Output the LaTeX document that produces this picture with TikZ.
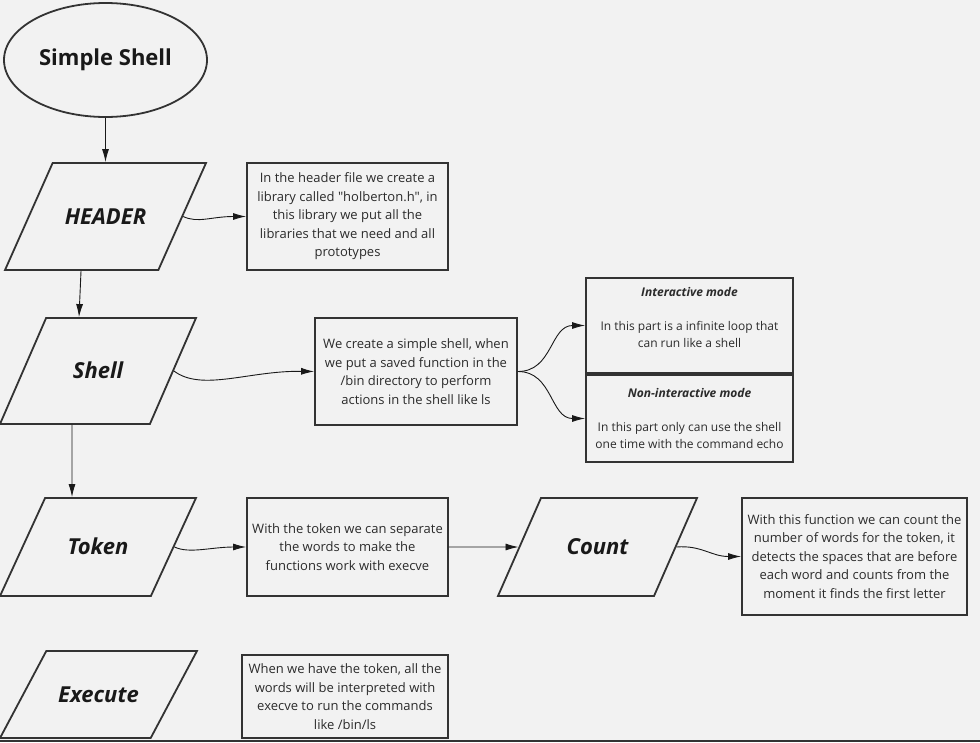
\documentclass[tikz,border=0pt]{standalone}
\usepackage{fontspec}
\newfontfamily\osans{Open Sans}
\usetikzlibrary{shapes.geometric,arrows.meta}
\definecolor{bg}{HTML}{F2F2F2}
\definecolor{ln}{HTML}{333333}
\definecolor{tx}{HTML}{2B2B2B}
\tikzset{
  frame/.style={draw=ln, line width=1.8pt},
  para/.style={frame, trapezium, trapezium left angle=66, trapezium right angle=114,
    inner sep=0pt, align=center,
    font=\osans\fontsize{22}{26}\selectfont\bfseries\itshape, text=black!90},
  txtbox/.style={frame, rectangle, align=center, inner sep=0pt,
    font=\osans\fontsize{13}{18.5}\selectfont, text=tx},
  smalltxt/.style={font=\osans\fontsize{12}{17}\selectfont},
  arr/.style={draw=black!90, line width=0.9pt, -{Latex[length=13pt,width=7pt]}}
}
\begin{document}
\begin{tikzpicture}[x=1pt,y=-1pt]
\useasboundingbox (0,0) rectangle (980,742);
\fill[bg] (0,0) rectangle (980,742);

\node[frame, ellipse, minimum width=203pt, minimum height=114pt,
  font=\osans\fontsize{22}{26}\selectfont\bfseries, text=black!90] (ell) at (105.5,60) {Simple Shell};

\node[para, text width=105.7pt, text height=61pt, text depth=46pt] (hdr) at (105.5,216.5) {HEADER};
\node[txtbox, minimum width=201pt, minimum height=107pt] (hbox) at (347.5,216.5)
  {In the header file we create a\\library called \char"0022holberton.h\char"0022, in\\this library we put all the\\libraries that we need and all\\prototypes};

\node[para, trapezium left angle=66.5, trapezium right angle=113.5, text width=103.8pt, text height=60.5pt, text depth=45.5pt] (shl) at (98,371) {Shell};
\node[txtbox, minimum width=202pt, minimum height=107pt] (sbox) at (416,371.5)
  {We create a simple shell, when\\we put a saved function in the\\/bin directory to perform\\actions in the shell like ls};
\node[txtbox, smalltxt, minimum width=207pt, minimum height=95pt] (imode) at (689.5,325.5)
  {{\bfseries\itshape Interactive mode}\\[17pt]In this part is a infinite loop that\\can run like a shell\\\mbox{}};
\node[txtbox, smalltxt, minimum width=207pt, minimum height=87pt] (nmode) at (689.5,418.5)
  {{\bfseries\itshape Non-interactive mode}\\[17pt]In this part only can use the shell\\one time with the command echo};

\node[para, trapezium left angle=65.3, trapezium right angle=114.7, text width=105.8pt, text height=56.5pt, text depth=41.5pt] (tok) at (98,547) {Token};
\node[txtbox, minimum width=201pt, minimum height=98pt] (tbox) at (347.5,547)
  {With the token we can separate\\the words to make the\\functions work with execve};
\node[para, trapezium left angle=66.3, trapezium right angle=113.7, text width=113pt, text height=56.5pt, text depth=41.5pt] (cnt) at (597.5,547) {Count};
\node[txtbox, minimum width=225pt, minimum height=117pt] (cbox) at (854.5,556.5)
  {With this function we can count the\\number of words for the token, it\\detects the spaces that are before\\each word and counts from the\\moment it finds the first letter};

\node[para, trapezium left angle=62, trapezium right angle=118, text width=104.4pt, text height=51pt, text depth=36pt] (exe) at (98.5,694.5) {Execute};
\node[txtbox, minimum width=206pt, minimum height=83pt] (ebox) at (345,696.5)
  {When we have the token, all the\\words will be interpreted with\\execve to run the commands\\like /bin/ls};

\draw[arr] (ell) -- (hdr);
\draw[arr] (hdr.east) .. controls +(15,7) and +(-35,0) .. (hbox.west);
\draw[arr] ([xshift=-24.5pt]hdr.south) -- ([xshift=-19pt]shl.north);
\draw[arr] (shl.east) .. controls +(28,21) and +(-65,-1) .. (sbox.west);
\draw[arr] (sbox.east) .. controls +(35,0) and +(-35,0) .. (imode.west);
\draw[arr] (sbox.east) .. controls +(35,0) and +(-35,0) .. (nmode.west);
\draw[arr] ([xshift=-26pt]shl.south) -- ([xshift=-26pt]tok.north);
\draw[arr] (tok.east) .. controls +(15,7) and +(-35,0) .. (tbox.west);
\draw[arr] (tbox.east) -- (cnt.west);
\draw[arr] (cnt.east) .. controls +(25,-2) and +(-30,0) .. (cbox.west);

\draw[ln, line width=1.5pt] (0,741) -- (980,741);
\end{tikzpicture}
\end{document}
